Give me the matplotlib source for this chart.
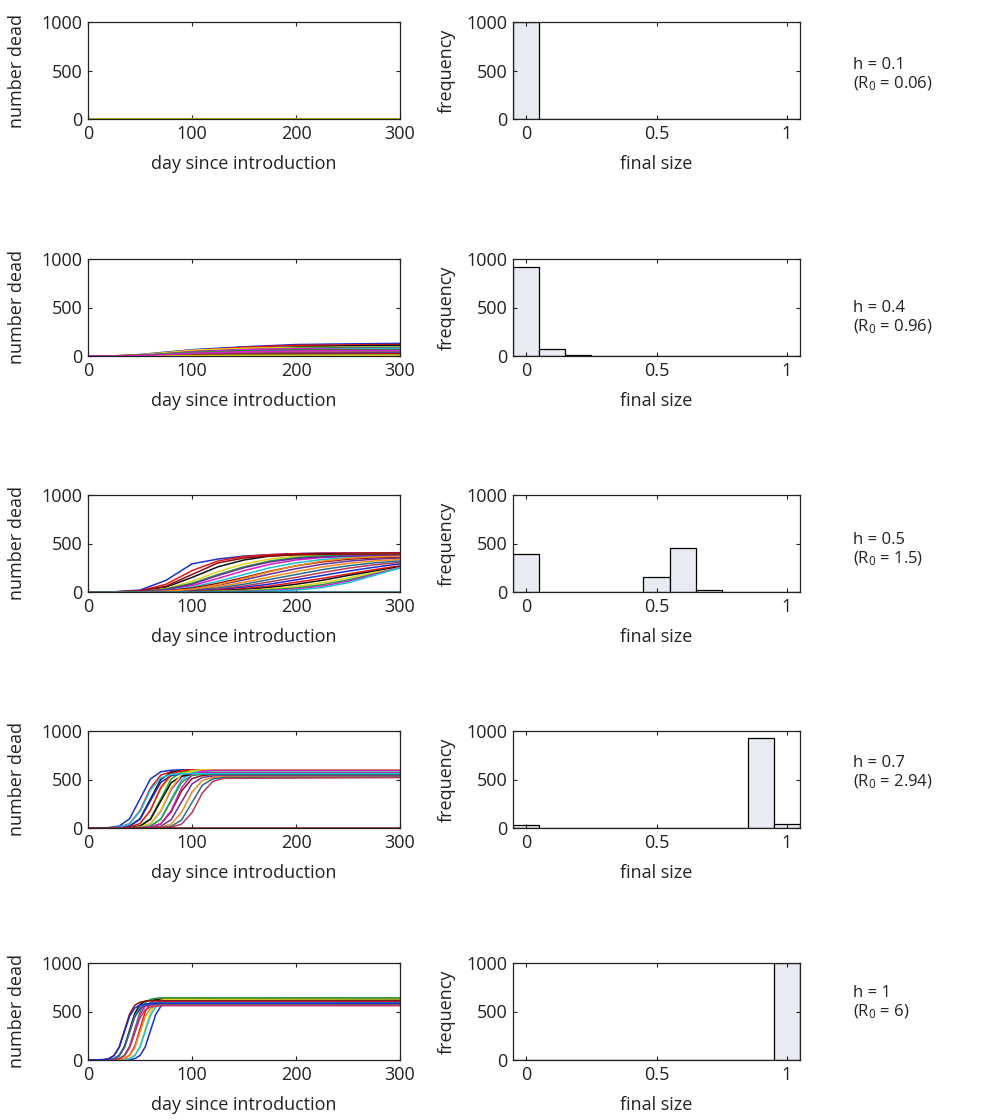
import matplotlib
matplotlib.use("Agg")
import matplotlib.pyplot as plt

matplotlib.rcParams['font.family'] = ['Open Sans', 'DejaVu Sans']
matplotlib.rcParams['mathtext.fontset'] = 'custom'
matplotlib.rcParams['mathtext.rm'] = 'Open Sans'
matplotlib.rcParams['mathtext.it'] = 'Open Sans'

# ---- data ------------------------------------------------------------------

h_values = ['0.1', '0.4', '0.5', '0.7', '1']
r0_values = ['0.06', '0.96', '1.5', '2.94', '6']

# histogram of final size, 11 bins centred on 0, 0.1, ..., 1
bin_centers = [0.0, 0.1, 0.2, 0.3, 0.4, 0.5, 0.6, 0.7, 0.8, 0.9, 1.0]
freq_h01 = [1000, 0, 0, 0, 0, 0, 0, 0, 0, 0, 0]
freq_h04 = [920, 75, 12, 0, 0, 0, 0, 0, 0, 0, 0]
freq_h05 = [390, 0, 0, 0, 4, 155, 450, 18, 0, 0, 0]
freq_h07 = [33, 0, 0, 0, 0, 0, 0, 0, 0, 925, 40]
freq_h1 = [0, 0, 0, 0, 0, 0, 0, 0, 0, 0, 1000]

# epidemic curves: number dead on selected days
days_h01 = [0, 300]
dead_h01 = [
    [0, 2], [0, 1], [0, 0], [0, 0],
]

days_h04 = [0, 25, 50, 75, 100, 150, 200, 250, 300]
dead_h04 = [
    [0, 2, 15, 40, 65, 95, 118, 125, 130],
    [0, 1, 10, 30, 55, 90, 110, 115, 118],
    [0, 0, 5, 20, 40, 75, 95, 105, 110],
    [0, 2, 12, 35, 60, 80, 88, 90, 92],
    [0, 0, 4, 15, 30, 60, 80, 88, 90],
    [0, 1, 8, 25, 45, 65, 75, 78, 80],
    [0, 0, 3, 10, 22, 45, 62, 72, 78],
    [0, 1, 6, 18, 32, 50, 60, 63, 65],
    [0, 0, 2, 8, 18, 35, 48, 55, 58],
    [0, 1, 5, 15, 25, 38, 45, 48, 50],
    [0, 0, 3, 10, 18, 28, 35, 38, 40],
    [0, 1, 4, 12, 20, 28, 32, 34, 35],
    [0, 0, 2, 7, 12, 20, 25, 27, 28],
    [0, 1, 3, 8, 14, 18, 20, 21, 22],
    [0, 0, 2, 5, 8, 12, 14, 15, 15],
    [0, 0, 1, 3, 5, 8, 9, 10, 10],
    [0, 1, 7, 22, 38, 52, 58, 60, 61],
    [0, 0, 4, 14, 28, 44, 52, 55, 56],
]

days_h05 = [0, 25, 50, 75, 100, 125, 150, 175, 200, 225, 250, 275, 300]
dead_h05 = [
    [0, 2, 20, 120, 290, 340, 370, 385, 395, 400, 402, 404, 405],
    [0, 1, 12, 80, 220, 320, 365, 385, 395, 400, 402, 403, 404],
    [0, 1, 8, 50, 150, 260, 330, 370, 385, 392, 395, 396, 397],
    [0, 0, 5, 35, 110, 210, 290, 340, 370, 382, 388, 390, 391],
    [0, 1, 6, 30, 90, 180, 260, 320, 355, 372, 380, 384, 385],
    [0, 0, 4, 20, 65, 140, 220, 285, 330, 355, 368, 374, 377],
    [0, 0, 3, 15, 50, 110, 180, 250, 300, 335, 355, 365, 370],
    [0, 1, 4, 14, 40, 90, 150, 215, 270, 310, 338, 352, 360],
    [0, 0, 2, 10, 30, 70, 125, 185, 240, 285, 318, 338, 350],
    [0, 0, 2, 8, 22, 55, 100, 155, 210, 258, 295, 320, 335],
    [0, 0, 1, 6, 18, 42, 80, 130, 180, 230, 270, 300, 320],
    [0, 0, 1, 5, 14, 32, 62, 105, 150, 200, 245, 280, 305],
    [0, 0, 1, 4, 10, 25, 48, 82, 125, 170, 215, 255, 290],
    [0, 0, 1, 3, 7, 18, 36, 62, 100, 140, 185, 230, 270],
    [0, 0, 0, 2, 5, 12, 25, 48, 80, 120, 170, 215, 260],
    [0, 0, 0, 1, 3, 8, 16, 32, 58, 95, 145, 200, 250],
    [0, 0, 0, 1, 2, 5, 10, 22, 42, 75, 125, 185, 245],
    [0, 0, 0, 0, 1, 3, 6, 14, 30, 60, 110, 180, 255],
    [0, 0, 0, 0, 1, 2, 4, 9, 20, 45, 95, 170, 250],
    [0, 1, 10, 60, 180, 300, 350, 372, 383, 388, 390, 391, 392],
    [0, 0, 3, 25, 80, 170, 250, 310, 345, 362, 370, 374, 376],
    [0, 0, 1, 8, 28, 75, 140, 210, 270, 318, 348, 362, 368],
    [0, 0, 0, 0, 0, 0, 0, 0, 0, 0, 0, 0, 0],
]

days_h07 = [0, 20, 30, 40, 50, 60, 70, 80, 90, 100, 110, 120, 130, 300]
dead_h07 = [
    [0, 4, 20, 95, 300, 505, 580, 596, 600, 600, 600, 600, 600, 600],
    [0, 2, 9, 45, 179, 411, 545, 581, 590, 590, 590, 590, 590, 590],
    [0, 1, 4, 20, 95, 298, 500, 575, 591, 595, 595, 595, 595, 595],
    [0, 0, 2, 9, 44, 176, 404, 536, 571, 580, 580, 580, 580, 580],
    [0, 0, 1, 4, 20, 95, 300, 505, 580, 596, 600, 600, 600, 600],
    [0, 0, 0, 2, 9, 43, 173, 397, 527, 561, 570, 570, 570, 570],
    [0, 0, 0, 1, 4, 20, 94, 295, 496, 570, 586, 590, 590, 590],
    [0, 0, 0, 0, 2, 8, 42, 167, 383, 508, 542, 550, 550, 550],
    [0, 0, 0, 0, 0, 4, 18, 86, 270, 454, 522, 536, 540, 540],
    [0, 0, 0, 0, 0, 2, 8, 40, 161, 369, 490, 522, 530, 530],
    [0, 0, 0, 0, 0, 0, 4, 18, 83, 263, 442, 507, 521, 525],
    [0, 0, 0, 0, 0, 0, 2, 8, 40, 158, 362, 480, 512, 520],
    [0, 1, 4, 19, 89, 280, 471, 541, 556, 560, 560, 560, 560, 560],
    [0, 0, 2, 9, 46, 182, 418, 554, 591, 600, 600, 600, 600, 600],
    [0, 0, 1, 4, 19, 88, 278, 467, 536, 551, 555, 555, 555, 555],
    [0, 0, 0, 2, 9, 46, 182, 418, 554, 591, 600, 600, 600, 600],
    [0, 0, 0, 1, 4, 19, 89, 280, 471, 541, 556, 560, 560, 560],
    [0, 0, 0, 0, 2, 9, 45, 180, 415, 550, 586, 595, 595, 595],
    [0, 2, 8, 43, 170, 390, 517, 552, 560, 560, 560, 560, 560, 560],
    [0, 0, 0, 0, 0, 0, 0, 0, 0, 0, 0, 0, 0, 0],
]

days_h1 = [0, 15, 20, 25, 30, 35, 40, 45, 50, 55, 60, 65, 70, 75, 300]
dead_h1 = [
    [0, 0, 0, 0, 0, 1, 4, 14, 46, 134, 300, 466, 554, 586, 600],
    [0, 0, 0, 1, 4, 15, 49, 143, 320, 497, 591, 625, 636, 640, 640],
    [0, 1, 4, 14, 47, 138, 310, 482, 573, 606, 616, 620, 620, 620, 620],
    [0, 0, 0, 0, 1, 4, 14, 48, 140, 315, 490, 582, 616, 626, 630],
    [0, 0, 1, 4, 15, 49, 143, 320, 497, 591, 625, 636, 640, 640, 640],
    [0, 0, 1, 4, 14, 46, 134, 300, 466, 554, 586, 596, 600, 600, 600],
    [0, 0, 0, 0, 1, 4, 14, 45, 132, 295, 458, 545, 576, 586, 590],
    [0, 4, 14, 46, 136, 305, 474, 564, 596, 606, 610, 610, 610, 610, 610],
    [0, 1, 4, 13, 43, 127, 285, 443, 527, 557, 566, 570, 570, 570, 570],
    [0, 0, 0, 1, 4, 13, 44, 128, 288, 447, 531, 562, 571, 575, 575],
    [0, 1, 4, 13, 45, 132, 295, 458, 545, 576, 586, 590, 590, 590, 590],
    [0, 0, 1, 4, 13, 43, 125, 280, 435, 517, 547, 556, 560, 560, 560],
    [0, 4, 13, 44, 129, 290, 451, 536, 567, 576, 580, 580, 580, 580, 580],
]

rows = [
    (days_h01, dead_h01, freq_h01),
    (days_h04, dead_h04, freq_h04),
    (days_h05, dead_h05, freq_h05),
    (days_h07, dead_h07, freq_h07),
    (days_h1, dead_h1, freq_h1),
]

# ---- style / layout ---------------------------------------------------------

line_colors = ['#1a2fd0', '#e8141c', '#111111', '#e3d21b', '#1f9e3a', '#d21fc8',
               '#1ec2d6', '#8c1010', '#6b2f9c', '#f08a1c', '#2a6e8a', '#b43a5a']
bar_color = '#e9ebf3'
text_color = '#222222'
fs = 13

W, H = 989, 1120
row_top_px = [22, 259, 495, 731, 963]
row_h_px = 97
h_text_px = [65, 308, 540, 763, 993]

fig = plt.figure(figsize=(W / 100, H / 100), dpi=100)


def style_axes(ax, ylab_x):
    for s in ax.spines.values():
        s.set_linewidth(0.9)
        s.set_color('#222222')
    ax.tick_params(direction='in', top=True, right=True, length=3, width=0.8,
                   labelsize=fs, colors=text_color, pad=4)
    ax.yaxis.set_label_coords(ylab_x, 0.5)
    ax.xaxis.set_label_coords(0.5, -0.37)


for i, (days, dead, freq) in enumerate(rows):
    bottom = 1 - (row_top_px[i] + row_h_px) / H
    height = row_h_px / H

    # left: epidemic curves
    ax = fig.add_axes([88 / W, bottom, 312 / W, height])
    for j, curve in enumerate(dead):
        ax.plot(days, curve, color=line_colors[j % len(line_colors)], lw=1.1)
    ax.set_xlim(0, 300)
    ax.set_ylim(0, 1000)
    ax.set_xticks([0, 100, 200, 300])
    ax.set_yticks([0, 500, 1000])
    ax.set_xlabel('day since introduction', fontsize=fs, color=text_color)
    ax.set_ylabel('number dead', fontsize=fs, color=text_color)
    style_axes(ax, -0.2)

    # right: final size histogram
    ax2 = fig.add_axes([513 / W, bottom, 287 / W, height])
    ax2.bar(bin_centers, freq, width=0.1, color=bar_color, edgecolor='black', linewidth=0.9)
    ax2.set_xlim(-0.05, 1.05)
    ax2.set_ylim(0, 1000)
    ax2.set_xticks([0, 0.5, 1])
    ax2.set_xticklabels(['0', '0.5', '1'])
    ax2.set_yticks([0, 500, 1000])
    ax2.set_xlabel('final size', fontsize=fs, color=text_color)
    ax2.set_ylabel('frequency', fontsize=fs, color=text_color)
    style_axes(ax2, -0.2)

    # parameter text on the right
    fig.text(853 / W, 1 - h_text_px[i] / H, 'h = ' + h_values[i],
             fontsize=12, color=text_color, va='center', ha='left')
    fig.text(853 / W, 1 - (h_text_px[i] + 19) / H,
             '(R$_{\\mathrm{0}}$ = ' + r0_values[i] + ')',
             fontsize=12, color=text_color, va='center', ha='left')

fig.savefig('out.png', dpi=100)
